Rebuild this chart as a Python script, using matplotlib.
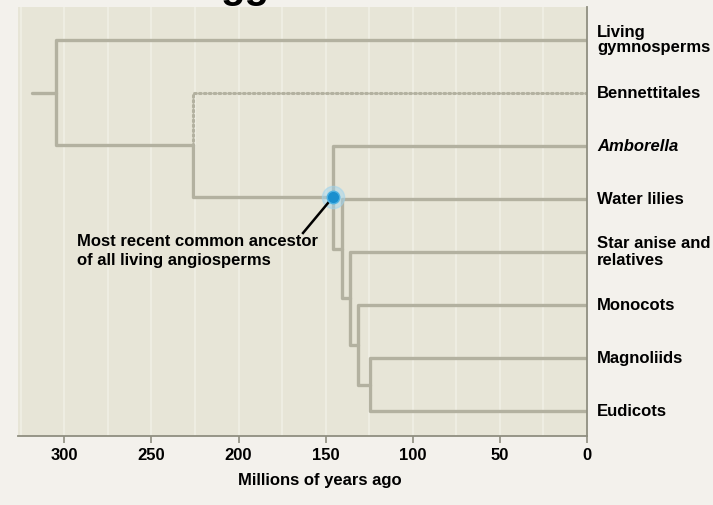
import matplotlib
matplotlib.use("Agg")
import matplotlib.pyplot as plt
import matplotlib.transforms as mtransforms

plt.rcParams['font.family'] = ['Liberation Sans', 'DejaVu Sans']

# taxa, top to bottom
leaves = ['Living\ngymnosperms', 'Bennettitales', 'Amborella', 'Water lilies',
          'Star anise and\nrelatives', 'Monocots', 'Magnoliids', 'Eudicots']
# node k joins leaf k with the clade below it (millions of years ago)
node_ages = [305, 226, 146, 140.5, 136, 131.5, 124.5]
root_stem = 318.5
ticks = [300, 250, 200, 150, 100, 50, 0]

line_col = '#b3b1a0'
bg_col = '#e7e5d7'

fig = plt.figure(figsize=(7.13, 5.05), dpi=100, facecolor='#f3f1ec')
ax = fig.add_axes([18/713, 69/505, 569/713, 429/505])
ax.set_facecolor(bg_col)
ax.set_xlim(326.6, 0)
ax.set_ylim(7.47, -0.623)

# light stripes every 25 My
for g in range(0, 326, 25):
    ax.axvline(g, color='#efeee4', lw=1.3, zorder=0)

# y of each node (midpoint of its two children), from the bottom up
n = len(node_ages)
node_y = [0.0]*n
node_y[n-1] = (n-1 + n) / 2
for k in range(n-2, -1, -1):
    node_y[k] = (k + node_y[k+1]) / 2

kw = dict(color=line_col, lw=2.4, solid_capstyle='round', solid_joinstyle='round', zorder=2)
for k in range(n):
    a = node_ages[k]
    if k == n-1:
        ax.plot([0, a, a, 0], [k, k, k+1, k+1], **kw)
        continue
    cy = node_y[k+1]
    nxt = node_ages[k+1]
    if k == 1:
        # Bennettitales: extinct lineage, dotted
        ax.plot([0, a, a], [k, k, node_y[k]], color=line_col, lw=2.2,
                linestyle=(0, (0.6, 1.0)), dash_capstyle='round', zorder=2)
        ax.plot([a, a, nxt], [node_y[k], cy, cy], **kw)
    else:
        ax.plot([0, a, a, nxt], [k, k, cy, cy], **kw)
# root stem
ax.plot([root_stem, node_ages[0]], [node_y[0], node_y[0]], **kw)

# most recent common ancestor of angiosperms
ax.plot(node_ages[2], node_y[2], 'o', ms=16, color='#9fd4ee', alpha=0.5, zorder=3)
ax.plot(node_ages[2], node_y[2], 'o', ms=9, color='#1b8fce', mec='#4fb3e3', mew=1, zorder=4)
ax.plot([node_ages[2] + 1.5, 163], [node_y[2] + 0.06, 3.64], color='black', lw=1.8, zorder=3)
ax.text(292.8, 3.66, 'Most recent common ancestor\nof all living angiosperms',
        fontsize=12, fontweight='bold', va='top', ha='left', linespacing=1.35)

# taxon labels
trans = mtransforms.blended_transform_factory(ax.transAxes, ax.transData)
for i, name in enumerate(leaves):
    style = 'italic' if name == 'Amborella' else 'normal'
    sp = 1.15 if name.startswith('Star') else 1.0
    ax.text(1.0176, i, name, transform=trans, fontsize=12, fontweight='bold',
            fontstyle=style, va='center', ha='left', linespacing=sp)

for s in ['left', 'top']:
    ax.spines[s].set_visible(False)
for s in ['bottom', 'right']:
    ax.spines[s].set_color('#8f8e80')
    ax.spines[s].set_linewidth(1.3)
ax.set_yticks([])
ax.set_xticks(ticks)
ax.set_xticklabels([str(t) for t in ticks], fontsize=12, fontweight='bold')
ax.tick_params(axis='x', direction='out', length=5, width=1.2, color='#8f8e80', pad=4)
ax.set_xlabel('Millions of years ago', fontsize=12, fontweight='bold')
ax.xaxis.set_label_coords(0.531, -0.1026)
ax.xaxis.label.set_va('center')

# cut-off title at the very top
fig.text(220/713, 1.0 + 2/505, 'gg', fontsize=29, fontweight='bold', va='baseline', ha='left')

fig.savefig('out.png', dpi=100, facecolor=fig.get_facecolor())
